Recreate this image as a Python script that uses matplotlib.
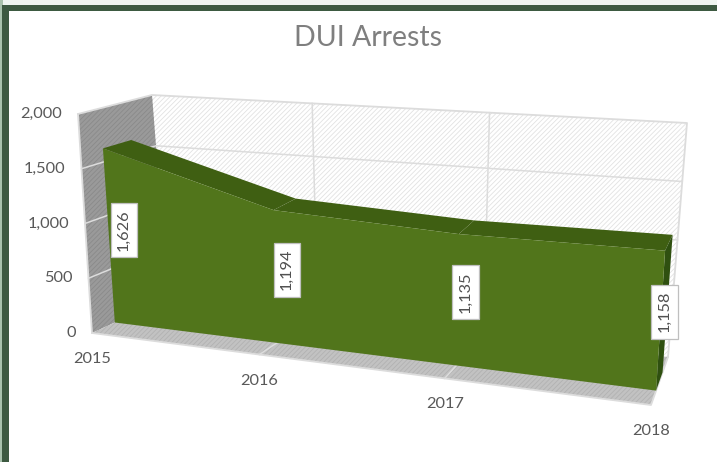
from matplotlib import pyplot as plt
import numpy as np

# chart data
years = ['2015', '2016', '2017', '2018']
arrests = [1626, 1194, 1135, 1158]
y_ticks = [0, 500, 1000, 1500, 2000]
y_max = 2000

# pixel positions of the 3D box corners: (depth, height, side)
corners = {
    'front_bottom_left': (92, 333), 'front_bottom_right': (651, 405),
    'front_top_left': (78, 114), 'front_top_right': (665, 160),
    'back_bottom_left': (168, 298), 'back_bottom_right': (668, 357),
    'back_top_left': (152, 95), 'back_top_right': (687, 123),
}
perspective = 1.17
depth_front = 0.30
depth_back = 0.68


def project(x, value, depth):
    # category position, value and depth to pixels, through the box corners
    u = x / (len(years) - 1)
    u = u / (u + perspective * (1 - u))
    v = value / y_max
    out = np.zeros(2)
    for d_name, d_w in (('front', 1 - depth), ('back', depth)):
        for v_name, v_w in (('bottom', 1 - v), ('top', v)):
            for u_name, u_w in (('left', 1 - u), ('right', u)):
                out += d_w * v_w * u_w * np.array(corners[f'{d_name}_{v_name}_{u_name}'])
    return out


def face(ax, points, color, hatch=None, hatch_color=None, zorder=1):
    xs, ys = zip(*points)
    ax.fill(xs, ys, facecolor=color, edgecolor=hatch_color or color, hatch=hatch,
            linewidth=0, zorder=zorder)


plt.rcParams['font.family'] = ['Lato', 'DejaVu Sans']
plt.rcParams['hatch.linewidth'] = 0.6

fig = plt.figure(figsize=(7.17, 4.62), dpi=100, facecolor='white')
ax = fig.add_axes([0, 0, 1, 1])
ax.set_xlim(0, 717)
ax.set_ylim(462, 0)
ax.axis('off')

# slide frame behind the chart
ax.fill([0, 717, 717, 0], [0, 0, 5, 5], color='#eff5f0', lw=0, zorder=0)
ax.fill([0, 3, 3, 0], [0, 0, 462, 462], color='#a9c2ad', lw=0, zorder=0)
ax.fill([2, 717, 717, 9, 9, 2], [5, 5, 11, 11, 462, 462], color='#3d5a41', lw=0, zorder=0.5)

last = len(years) - 1

# walls and floor
face(ax, [project(0, 0, 1), project(last, 0, 1), project(last, y_max, 1), project(0, y_max, 1)],
     'white', '///////', '#e2e2e2')
face(ax, [project(0, 0, 0), project(0, 0, 1), project(0, y_max, 1), project(0, y_max, 0)],
     '#9a9a9a', '///////', '#8a8a8a')
face(ax, [project(0, 0, 0), project(last, 0, 0), project(last, 0, 1), project(0, 0, 1)],
     '#c2c2c2', '///////', '#b2b2b2')

# outline of the walls
grid = '#dcdcdc'
outline = [project(0, y_max, 0), project(0, y_max, 1), project(last, y_max, 1), project(last, 0, 1)]
ax.plot(*zip(*outline), color=grid, lw=1.3, zorder=2)
ax.plot(*zip(project(0, 0, 0), project(0, y_max, 0)), color=grid, lw=1.3, zorder=2)
ax.plot(*zip(project(0, 0, 0), project(last, 0, 0), project(last, 0, 1)), color=grid, lw=1.3, zorder=2)

# gridlines
for tick in y_ticks[1:-1]:
    ax.plot(*zip(project(0, tick, 0), project(0, tick, 1), project(last, tick, 1)),
            color=grid, lw=1.1, zorder=2)
for i in range(1, last):
    ax.plot(*zip(project(i, y_max, 1), project(i, 0, 1), project(i, 0, 0)),
            color=grid, lw=1.1, zorder=2)

# the area: top strip, right end, then front
for i in range(last):
    face(ax, [project(i, arrests[i], depth_front), project(i + 1, arrests[i + 1], depth_front),
              project(i + 1, arrests[i + 1], depth_back), project(i, arrests[i], depth_back)],
         '#3f5f12', zorder=3)
face(ax, [project(last, 0, depth_front), project(last, 0, depth_back),
          project(last, arrests[last], depth_back), project(last, arrests[last], depth_front)],
     '#2f5010', zorder=3)
front = [project(0, 0, depth_front), project(last, 0, depth_front)]
front += [project(i, arrests[i], depth_front) for i in range(last, -1, -1)]
face(ax, front, '#51751b', zorder=4)

# axis text
for tick in y_ticks:
    px, py = project(0, tick, 0)
    ax.text(px - 16, py, f'{tick:,}', ha='right', va='center', fontsize=11.8, color='#595959', zorder=6)
for i, year in enumerate(years):
    px, py = project(i, 0, 0)
    ax.text(px, py + 26, year, ha='center', va='center', fontsize=11.8, color='#595959', zorder=6)

# data labels
for i, value in enumerate(arrests):
    px, py = project(i, value / 2, 0.5)
    ax.text(px, py, f'{value:,}', rotation=90, ha='center', va='center', fontsize=11.8,
            color='#505050', zorder=7,
            bbox=dict(boxstyle='square,pad=0.38', facecolor='white', edgecolor='#bfbfbf', linewidth=0.9))

ax.text(368, 38, 'DUI Arrests', ha='center', va='center', fontsize=20.5, color='#7f7f7f', zorder=6)

fig.savefig('out.png', dpi=100)
